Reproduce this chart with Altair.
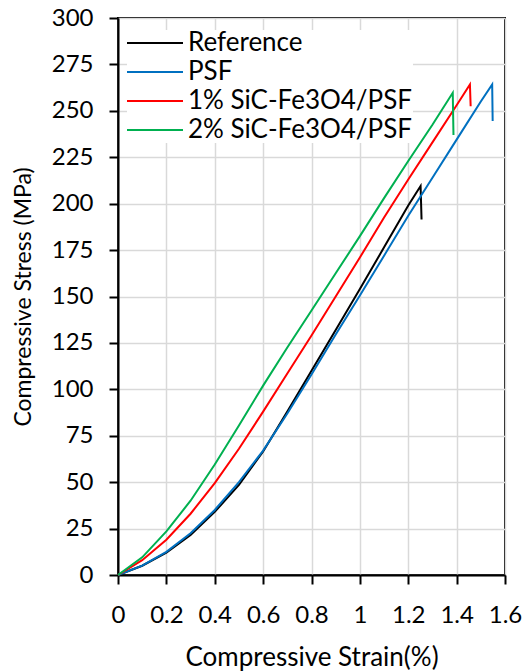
import altair as alt
import pandas as pd

series_names = ["Reference", "PSF", "1% SiC-Fe3O4/PSF", "2% SiC-Fe3O4/PSF"]
series_colors = ["#000000", "#0070C0", "#FF0000", "#00B050"]

ref_x = [0, 0.1, 0.2, 0.3, 0.4, 0.5, 0.6, 0.7, 0.8, 0.9, 1.0, 1.1, 1.2, 1.251, 1.255]
ref_y = [0, 5, 12, 21.5, 34, 48.5, 66.5, 88, 110, 132, 154, 176.5, 199, 209.5, 191.5]

psf_x = [0, 0.1, 0.2, 0.3, 0.4, 0.5, 0.6, 0.7, 0.8, 0.9, 1.0, 1.1, 1.2, 1.3, 1.4, 1.5, 1.547, 1.549]
psf_y = [0, 5, 12.5, 22.5, 35, 50, 67, 87, 108, 129.5, 150.5, 172, 193.5, 214, 234.5, 255, 264.2, 244.5]

p1_x = [0, 0.1, 0.2, 0.3, 0.4, 0.5, 0.6, 0.7, 0.8, 0.9, 1.0, 1.1, 1.2, 1.3, 1.4, 1.455, 1.458]
p1_y = [0, 8, 19, 33, 49.5, 68, 88, 108.5, 129, 150, 171, 192.5, 213, 233, 253, 264.2, 252.5]

p2_x = [0, 0.1, 0.2, 0.3, 0.4, 0.5, 0.6, 0.7, 0.8, 0.9, 1.0, 1.1, 1.2, 1.3, 1.384, 1.387]
p2_y = [0, 9.5, 23.5, 40, 59.5, 80.5, 102, 122.5, 142.5, 162.5, 182.5, 203, 223, 242.5, 259.7, 237]

x_ticks = [0, 0.2, 0.4, 0.6, 0.8, 1.0, 1.2, 1.4, 1.6]
y_ticks = [0, 25, 50, 75, 100, 125, 150, 175, 200, 225, 250, 275, 300]

rows = []
for name, xs, ys in zip(series_names, [ref_x, psf_x, p1_x, p2_x], [ref_y, psf_y, p1_y, p2_y]):
    for i, (xv, yv) in enumerate(zip(xs, ys)):
        rows.append({"series": name, "strain": xv, "stress": yv, "idx": i})
df = pd.DataFrame(rows)

FONT = "Lato"

chart = alt.Chart(df).mark_line(strokeWidth=2, interpolate="linear").encode(
    x=alt.X("strain:Q", title="Compressive Strain(%)",
            scale=alt.Scale(domain=[0, 1.6], nice=False),
            axis=alt.Axis(values=x_ticks, format="~g", tickSize=9, labelPadding=19,
                          labelFlush=False, labelOverlap=False, labelBound=False,
                          titlePadding=17, titleFontSize=26, grid=True)),
    y=alt.Y("stress:Q", title="Compressive Stress (MPa)",
            scale=alt.Scale(domain=[0, 300], nice=False),
            axis=alt.Axis(values=y_ticks, tickSize=9, labelPadding=16,
                          labelFlush=False, labelOverlap=False,
                          titlePadding=16, titleFontSize=23, grid=True)),
    color=alt.Color("series:N",
                    scale=alt.Scale(domain=series_names, range=series_colors),
                    legend=alt.Legend(title=None, orient="none", legendX=9, legendY=12,
                                      symbolType="M-4,0H4", symbolSize=196,
                                      symbolStrokeWidth=2, symbolOffset=15,
                                      labelOffset=20, labelFontSize=26, labelFont=FONT,
                                      labelLimit=400,
                                      labelColor="#000000", rowPadding=3,
                                      fillColor="white", padding=0)),
    order="idx:Q",
).properties(
    width=387, height=557,
    autosize=alt.AutoSizeParams(type="none"),
    padding={"left": 118, "top": 18, "right": 18, "bottom": 96},
).configure_view(
    stroke="#000000", strokeWidth=2
).configure_axis(
    labelFont=FONT, titleFont=FONT, labelFontSize=24,
    labelColor="#000000", titleColor="#000000", titleFontWeight="normal",
    domainColor="#000000", domainWidth=2, tickColor="#000000", tickWidth=2,
    gridColor="#d9d9d9", gridWidth=1.5
)

chart.save("out.html", embed_options={"renderer": "svg", "actions": False})
